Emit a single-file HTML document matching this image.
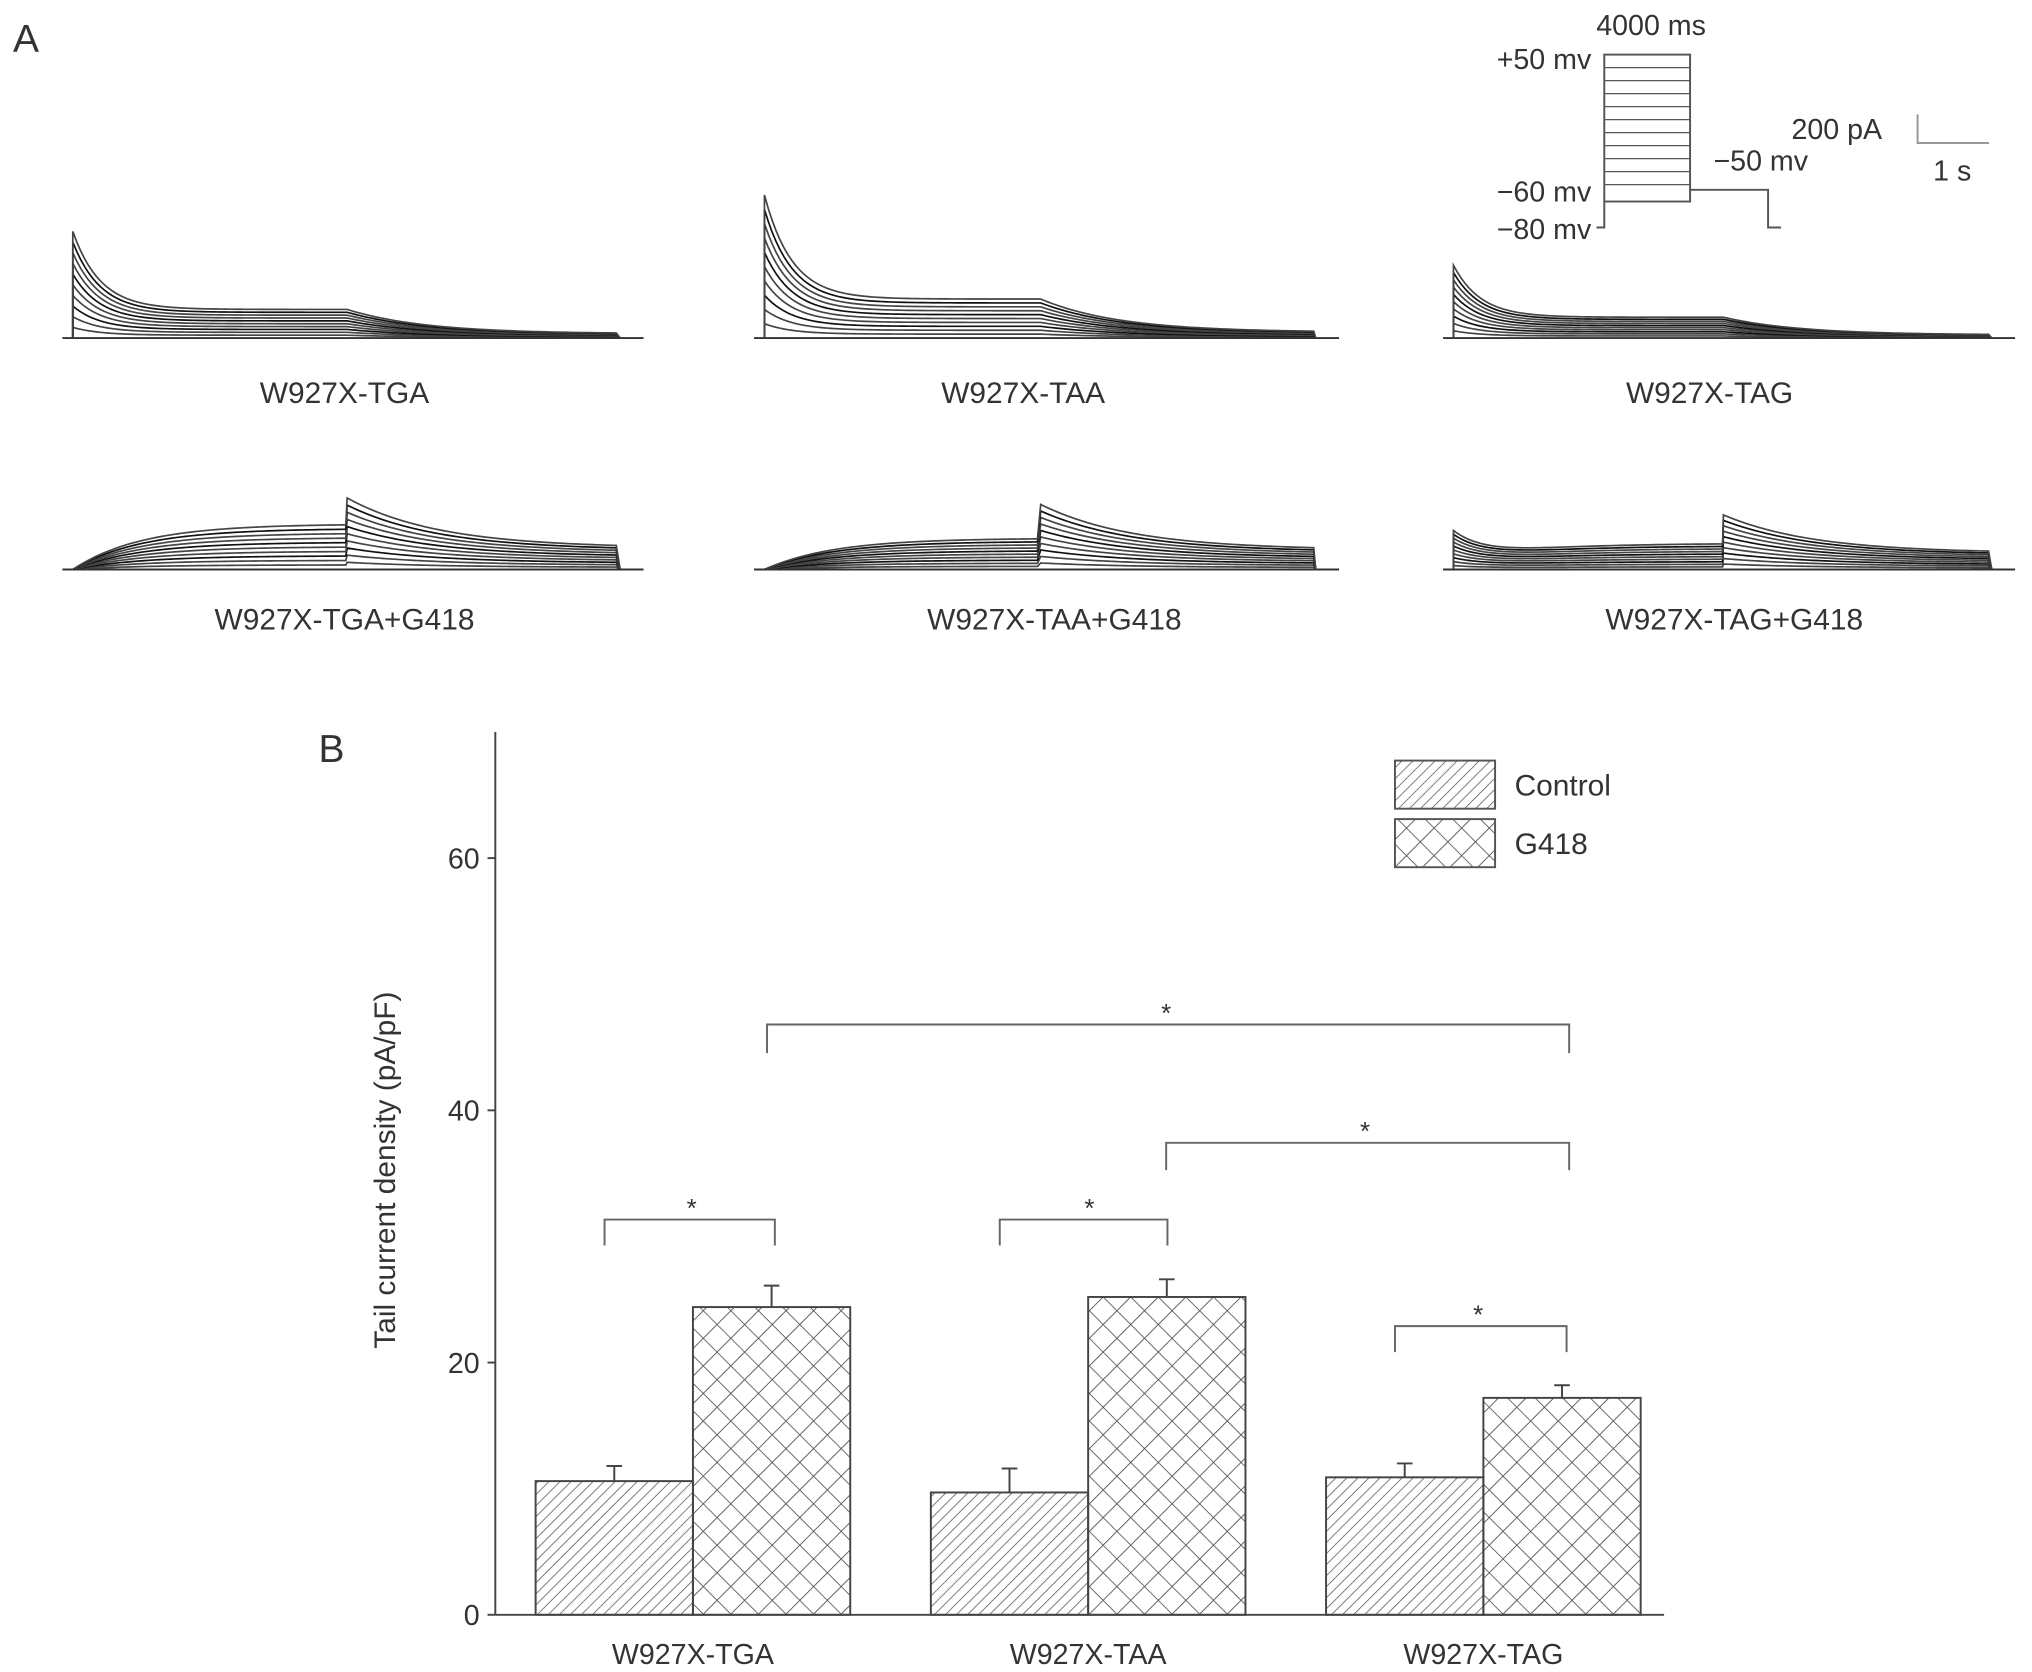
<!DOCTYPE html>
<html><head><meta charset="utf-8"><style>
html,body{margin:0;padding:0;background:#fff}
svg{display:block}
text{font-family:"Liberation Sans",sans-serif;fill:#333}
</style></head><body>
<svg id="fig" width="2032" height="1672" viewBox="0 0 1563 1286" preserveAspectRatio="none" xmlns="http://www.w3.org/2000/svg">
<defs>
<pattern id="diag" patternUnits="userSpaceOnUse" width="6" height="6" patternTransform="rotate(45)">
<line x1="0" y1="0" x2="0" y2="6" stroke="#666" stroke-width="1.3"/></pattern>
<pattern id="cross" patternUnits="userSpaceOnUse" width="15" height="15" patternTransform="rotate(45)">
<line x1="0" y1="0" x2="0" y2="15" stroke="#555" stroke-width="1.4"/><line x1="0" y1="0" x2="15" y2="0" stroke="#555" stroke-width="1.4"/></pattern>
</defs>
<text x="10" y="40" font-size="30">A</text>
<text x="245" y="586" font-size="30">B</text>
<g id="traces"></g>
<g id="protocol" stroke="#555" fill="none" stroke-width="1.5">
<rect x="1234" y="42" width="66" height="113"/>
<path d="M1234 52 H1300 M1234 62 H1300 M1234 72 H1300 M1234 82 H1300 M1234 92 H1300 M1234 102 H1300 M1234 112 H1300 M1234 122 H1300 M1234 132 H1300 M1234 142 H1300" stroke-width="1"/>
<path d="M1234 155 V175 H1228 M1300 146 H1360 V175 H1370"/>
<path d="M1475 88 V110 H1530" stroke="#999"/>
</g>
<g font-size="22">
<text x="1270" y="27" text-anchor="middle">4000 ms</text>
<text x="1224" y="53" text-anchor="end">+50 mv</text>
<text x="1224" y="155" text-anchor="end">−60 mv</text>
<text x="1224" y="184" text-anchor="end">−80 mv</text>
<text x="1318" y="131">−50 mv</text>
<text x="1378" y="107">200 pA</text>
<text x="1487" y="139">1 s</text>
</g>
<g font-size="23" text-anchor="middle">
<text x="265" y="310">W927X-TGA</text><text x="787" y="310">W927X-TAA</text><text x="1315" y="310">W927X-TAG</text>
<text x="265" y="484">W927X-TGA+G418</text><text x="811" y="484">W927X-TAA+G418</text><text x="1334" y="484">W927X-TAG+G418</text>
</g>
<g id="chart"></g>
</svg>
<script>
const categories=["W927X-TGA","W927X-TAA","W927X-TAG"];
const controlValues=[10.6,9.7,10.9];
const controlErrors=[1.2,1.9,1.1];
const g418Values=[24.4,25.2,17.2];
const g418Errors=[1.7,1.4,1.0];
const yTicks=[0,20,40,60];
const seriesNames=["Control","G418"];
const traceTop=[[60,22,22],[80,30,28],[40,16,16]];
const traceBot=[[0,35,55],[0,24,50],[30,20,42]];

const NS="http://www.w3.org/2000/svg";
function mk(t,a,p){const e=document.createElementNS(NS,t);for(const k in a)e.setAttribute(k,a[k]);(p||chart).appendChild(e);return e;}
const chart=document.getElementById('chart');
const X0=381,X1=1280,Y0=1242,YT=563,YMAX=70;
const y=v=>Y0-(v/YMAX)*(Y0-YT);
const groupX=i=>533+i*304;
const BW=121;

let e=mk('line',{x1:X0,y1:YT,x2:X0,y2:Y0,stroke:'#444','stroke-width':1.5});

e=mk('line',{x1:X0,y1:Y0,x2:X1,y2:Y0,stroke:'#444','stroke-width':1.5});

yTicks.forEach(t=>{
 let l=mk('line',{x1:X0-6,y1:y(t),x2:X0,y2:y(t),stroke:'#444','stroke-width':1.5});
 
 let tx=mk('text',{x:X0-12,y:y(t)+8,'font-size':22,'text-anchor':'end'});tx.textContent=t;
 
});
let yl=mk('text',{x:0,y:0,'font-size':23,'text-anchor':'middle',transform:'translate(304,900) rotate(-90)'});
yl.textContent='Tail current density (pA/pF)';


function bar(x,v,err,fill,name){
 let r=mk('rect',{x:x,y:y(v),width:BW,height:Y0-y(v),fill:fill,stroke:'#444','stroke-width':1.5});
 
 const cx=x+BW/2;
 let p=mk('path',{d:`M${cx} ${y(v)} V${y(v+err)} M${cx-6} ${y(v+err)} H${cx+6}`,stroke:'#444','stroke-width':1.5,fill:'none'});
 
}
categories.forEach((c,i)=>{
 const gx=groupX(i);
 bar(gx-BW,controlValues[i],controlErrors[i],'url(#diag)','bar-control-'+i);
 bar(gx,g418Values[i],g418Errors[i],'url(#cross)','bar-g418-'+i);
 let t=mk('text',{x:gx,y:1280,'font-size':22,'text-anchor':'middle'});t.textContent=c;
 
});
function bracket(x1,x2,yy,leg,sx){
 let p=mk('path',{d:`M${x1} ${yy+leg} V${yy} H${x2} V${yy+leg}`,stroke:'#666','stroke-width':1.5,fill:'none'});
 
 let t=mk('text',{x:sx,y:yy-2,'font-size':20,'text-anchor':'middle'});t.textContent='*';
 
}
bracket(465,596,938,20,532);bracket(769,898,938,20,838);bracket(1073,1205,1020,20,1137);
bracket(590,1207,788,22,897);bracket(897,1207,879,21,1050);
[['url(#diag)',585],['url(#cross)',630]].forEach((d,i)=>{
 let r=mk('rect',{x:1073,y:d[1],width:77,height:37,fill:d[0],stroke:'#555','stroke-width':1.5});
 
 let t=mk('text',{x:1165,y:d[1]+27,'font-size':23});t.textContent=seriesNames[i];
 
});

const tg=document.getElementById('traces');
const px=[[48,495],[580,1030],[1110,1550]];
function family(x0,x1,base,amps,bottom){
 const [pk,pl,ta]=amps;const xs=x0+8,xstep=x0+(x1-x0)*0.49,xe=x1-18;
 for(let k=1;k<=10;k++){
  const f=k/10;let d=`M${xs} ${base}`;
  for(let x=xs;x<=xstep;x+=3){const t=(x-xs)/(xstep-xs);
   let v=bottom? pl*f*(1-Math.exp(-t*4))+pk*f*Math.exp(-t*8) : pl*f+pk*f*Math.exp(-t*10);
   d+=` L${x} ${base-v}`;}
  const startTail=bottom?ta*f:pl*f;
  for(let x=xstep;x<=xe;x+=3){const t=(x-xstep)/(xe-xstep);
   let v=bottom? ta*f*(0.3+0.7*Math.exp(-t*3)) : startTail*(0.15+0.85*Math.exp(-t*3.5));
   d+=` L${x} ${base-v}`;}
  d+=` L${xe} ${base}`;
  let p=mk('path',{d:d,stroke:k%3==0?'#111':'#444','stroke-width':1.3,fill:'none'},tg);
  
 }
 let b=mk('path',{d:`M${x0} ${base} H${x1}`,stroke:'#333','stroke-width':1.5},tg);
 
}
px.forEach((r,i)=>{family(r[0],r[1],260,traceTop[i],false);family(r[0],r[1],438,traceBot[i],true);});
</script>
</body></html>
